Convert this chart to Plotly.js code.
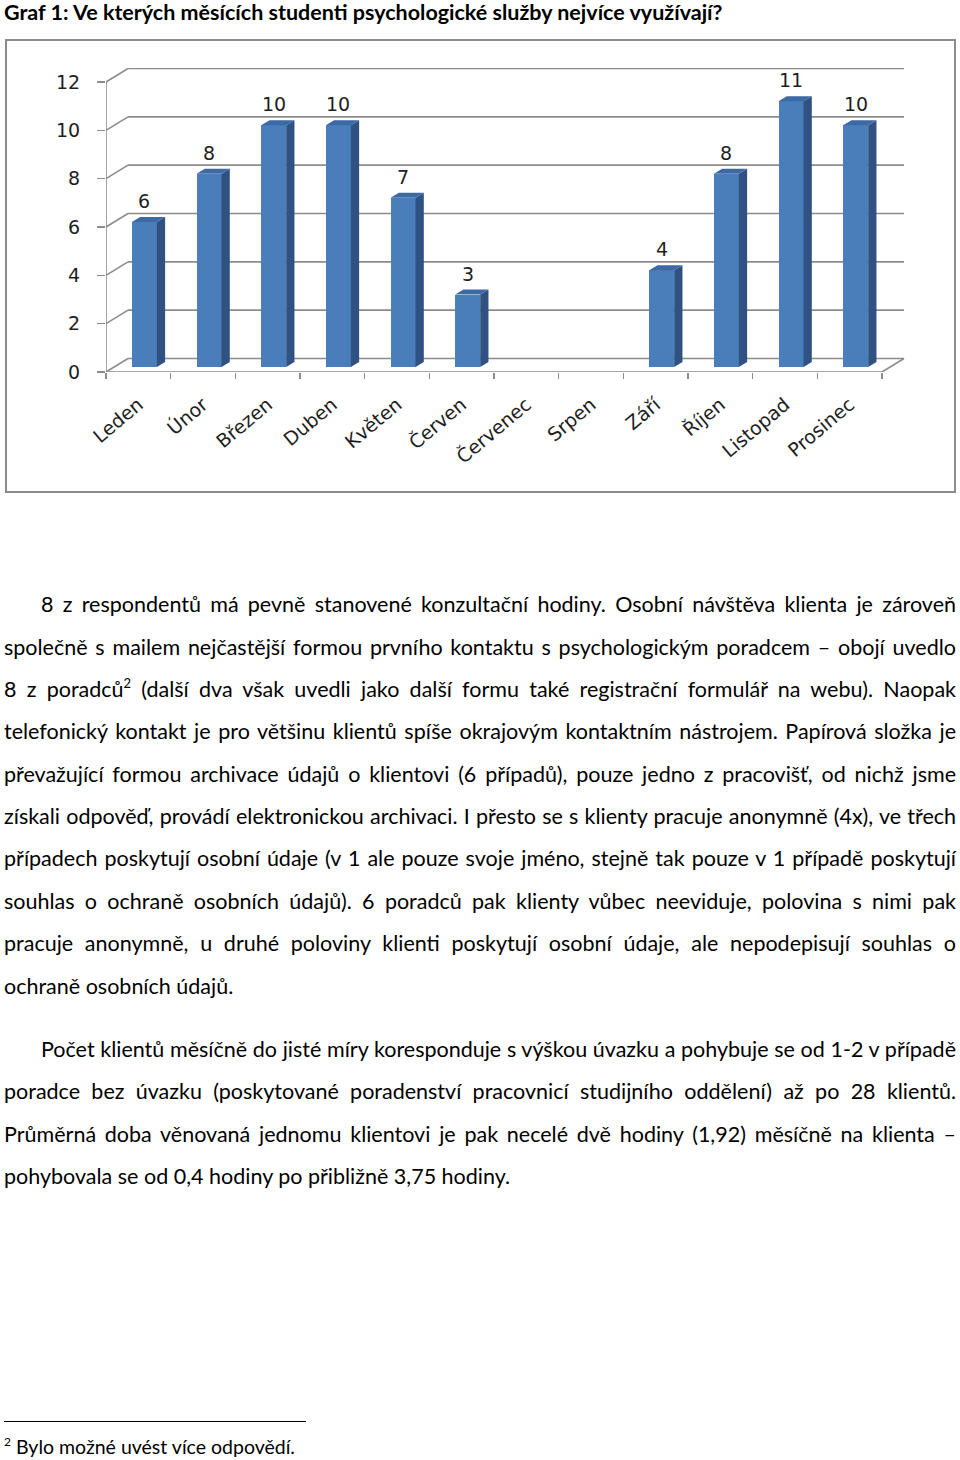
<!DOCTYPE html>
<html>
<head>
<meta charset="utf-8">
<script src="https://cdn.plot.ly/plotly-3.0.1.min.js"></script>
<style>
  html, body { margin:0; padding:0; background:#fff; }
  body { width:960px; height:1460px; position:relative; overflow:hidden; font-family:Lato, "Open Sans", sans-serif; color:#000; }
  #box { position:absolute; left:5px; top:39px; width:947px; height:450px; border:2px solid #8c8c8c; }
  #chart { width:947px; height:450px; }
  .ln { position:absolute; left:4px; width:952px; white-space:nowrap; text-align:justify; text-align-last:justify; font-size:21.5px; line-height:24px; }
  .ind { left:41px; width:915px; }
  .last { text-align-last:left; }
  .h { font-weight:bold; text-align-last:left; line-height:18px; }
  .fn { font-size:19.5px; }
  sup { font-size:13px; line-height:0; vertical-align:9px; }
  .fn sup { font-size:12px; vertical-align:8px; }
  #fnline { position:absolute; left:4px; top:1421px; width:302px; height:0; border-top:1.6px solid #000; }
</style>
</head>
<body>
<div class="ln h" style="top:3px;">Graf 1: Ve kterých měsících studenti psychologické služby nejvíce využívají?</div>
<div id="box"><div id="chart"></div></div>

<div class="ln ind" style="top:592px;">8 z respondentů má pevně stanovené konzultační hodiny. Osobní návštěva klienta je zároveň</div>
<div class="ln" style="top:635px;">společně s mailem nejčastější formou prvního kontaktu s psychologickým poradcem – obojí uvedlo</div>
<div class="ln" style="top:677px;">8 z poradců<sup>2</sup> (další dva však uvedli jako další formu také registrační formulář na webu). Naopak</div>
<div class="ln" style="top:719px;">telefonický kontakt je pro většinu klientů spíše okrajovým kontaktním nástrojem. Papírová složka je</div>
<div class="ln" style="top:762px;">převažující formou archivace údajů o klientovi (6 případů), pouze jedno z pracovišť, od nichž jsme</div>
<div class="ln" style="top:804px;">získali odpověď, provádí elektronickou archivaci. I přesto se s klienty pracuje anonymně (4x), ve třech</div>
<div class="ln" style="top:846px;">případech poskytují osobní údaje (v 1 ale pouze svoje jméno, stejně tak pouze v 1 případě poskytují</div>
<div class="ln" style="top:889px;">souhlas o ochraně osobních údajů). 6 poradců pak klienty vůbec neeviduje, polovina s nimi pak</div>
<div class="ln" style="top:931px;">pracuje anonymně, u druhé poloviny klienti poskytují osobní údaje, ale nepodepisují souhlas o</div>
<div class="ln last" style="top:974px;">ochraně osobních údajů.</div>

<div class="ln ind" style="top:1037px;">Počet klientů měsíčně do jisté míry koresponduje s výškou úvazku a pohybuje se od 1-2 v případě</div>
<div class="ln" style="top:1079px;">poradce bez úvazku (poskytované poradenství pracovnicí studijního oddělení) až po 28 klientů.</div>
<div class="ln" style="top:1122px;">Průměrná doba věnovaná jednomu klientovi je pak necelé dvě hodiny (1,92) měsíčně na klienta –</div>
<div class="ln last" style="top:1164px;">pohybovala se od 0,4 hodiny po přibližně 3,75 hodiny.</div>

<div id="fnline"></div>
<div class="ln last fn" style="top:1435px;"><sup>2</sup> Bylo možné uvést více odpovědí.</div>

<script>
// ---- data ----
const months = ['Leden','Únor','Březen','Duben','Květen','Červen','Červenec','Srpen','Září','Říjen','Listopad','Prosinec'];
const students = [6, 8, 10, 10, 7, 3, null, null, 4, 8, 11, 10];
const yTicks = [0, 2, 4, 6, 8, 10, 12];

// ---- geometry (pixel-based styling of the pseudo-3D look) ----
const W = 947, H = 450;
const mL = 99, mR = 49, mT = 27, mB = 119;
const plotW = W - mL - mR, plotH = H - mT - mB;
const catPx = 776 / 12, valPx = 290 / 12;
const xMax = -0.5 + plotW / catPx;
const yMax = plotH / valPx;
const dxB = 22 / catPx, dyB = 13.5 / valPx;      // back-wall offset
const sx = 6 / catPx, sy = 5 / valPx;             // bar placement inside depth
const faceW = 25 / catPx;                         // bar face width
const dxS = 8.3 / catPx, dyS = 5 / valPx;         // bar depth
const idx = months.map((_, i) => i);

// side and top faces built from the data values
const sideX = [], sideY = [], topX = [], topY = [];
idx.forEach(i => {
  const v = students[i];
  if (v === null) return;
  const xr = i + faceW / 2, xl = i - faceW / 2;
  sideX.push(xr, xr + dxS, xr + dxS, xr, xr, null);
  sideY.push(0, dyS, v + dyS, v, 0, null);
  topX.push(xl, xr, xr + dxS, xl + dxS, xl, null);
  topY.push(v, v, v + dyS, v + dyS, v, null);
});

const traces = [
  { type:'bar', x: idx, y: students, xaxis:'x3', yaxis:'y3', width: faceW,
    marker:{ color:'#4a7ebb', line:{width:0} }, hoverinfo:'skip', showlegend:false },
  { type:'scatter', mode:'lines', x: sideX, y: sideY, xaxis:'x3', yaxis:'y3', fill:'toself',
    fillcolor:'#2f5282', line:{width:0, color:'#2f5282'}, hoverinfo:'skip', showlegend:false },
  { type:'scatter', mode:'lines', x: topX, y: topY, xaxis:'x3', yaxis:'y3', fill:'toself',
    fillcolor:'#3d6aa5', line:{width:0, color:'#3d6aa5'}, hoverinfo:'skip', showlegend:false },
  // category axis carrier (invisible)
  { type:'scatter', mode:'markers', x: months, y: months.map(() => null), xaxis:'x', yaxis:'y',
    hoverinfo:'skip', showlegend:false }
];

const grey = '#8c8c8c';
const gl = { color: grey, width: 1.6 };
const shapes = [];
yTicks.forEach(v => {
  shapes.push({ type:'line', xref:'x', yref:'y', x0:-0.5 + dxB, x1:11.5 + dxB, y0:v + dyB, y1:v + dyB, line:gl, layer:'below' });
  shapes.push({ type:'line', xref:'x', yref:'y', x0:-0.5, x1:-0.5 + dxB, y0:v, y1:v + dyB, line:gl, layer:'below' });
});
shapes.push({ type:'line', xref:'x', yref:'y', x0:-0.5, x1:-0.5, y0:0, y1:yTicks[yTicks.length-1], line:gl, layer:'below' });
shapes.push({ type:'line', xref:'x', yref:'y', x0:-0.5, x1:11.5, y0:0, y1:0, line:gl, layer:'below' });
shapes.push({ type:'line', xref:'x', yref:'y', x0:11.5, x1:11.5 + dxB, y0:0, y1:dyB, line:gl, layer:'below' });

const labelFont = { family:'DejaVu Sans, sans-serif', size:19, color:'#1e1e1e' };
const annotations = [];
idx.forEach(i => {
  const v = students[i];
  if (v === null) return;
  annotations.push({ x:i, y:v, xref:'x3', yref:'y3', text:String(v), showarrow:false,
    xanchor:'center', yanchor:'bottom', yshift:8, font:labelFont });
});

const layout = {
  width: W, height: H,
  margin: { l:mL, r:mR, t:mT, b:mB, pad:0 },
  paper_bgcolor:'#fff', plot_bgcolor:'rgba(0,0,0,0)',
  showlegend:false,
  xaxis: { type:'category', categoryorder:'array', categoryarray: months, range:[-0.5, xMax],
    tickson:'boundaries', ticks:'outside', ticklen:6, tickwidth:1.6, tickcolor:grey,
    tickangle:-40, tickfont: labelFont, ticklabelstandoff: 17, ticklabelshift: 0,
    showgrid:false, zeroline:false, showline:false, fixedrange:true },
  yaxis: { range:[0, yMax], tickvals: yTicks, ticks:'outside', ticklen:8, tickwidth:1.6, tickcolor:grey,
    tickfont: labelFont, ticklabelstandoff: 13, showgrid:false, zeroline:false, showline:false, fixedrange:true },
  xaxis3: { overlaying:'x', anchor:'y3', range:[-0.5 - sx, xMax - sx], visible:false, fixedrange:true },
  yaxis3: { overlaying:'y', anchor:'x3', range:[-sy, yMax - sy], visible:false, fixedrange:true },
  shapes: shapes,
  annotations: annotations,
  bargap: 0
};

Plotly.newPlot('chart', traces, layout, { displayModeBar:false, staticPlot:true });
</script>
</body>
</html>
